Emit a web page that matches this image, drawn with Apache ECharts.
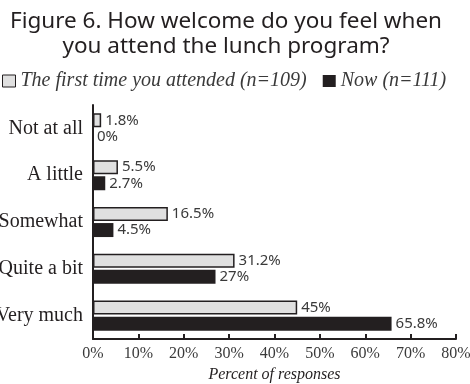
<!DOCTYPE html>
<html>
<head>
<meta charset="utf-8">
<script src="https://cdn.jsdelivr.net/npm/echarts@6/dist/echarts.min.js"></script>
<style>html,body{margin:0;padding:0;background:#fff}#c{width:470px;height:384px}</style>
</head>
<body>
<div id="c"></div>
<script>
var categories = ["Not at all", "A little", "Somewhat", "Quite a bit", "Very much"];
var firstTime = [1.8, 5.5, 16.5, 31.2, 45];
var nowValues = [0, 2.7, 4.5, 27, 65.8];
var seriesNames = ["The first time you attended (n=109)", "Now (n=111)"];
var xTicks = [0, 80, 10];

var ink = "#231f20";
var serif = "'Liberation Serif', 'DejaVu Serif', serif";
var sans = "'Noto Sans', 'Open Sans', sans-serif";

var chart = echarts.init(document.getElementById('c'), null, {renderer: 'canvas'});
var labelStyle = {show: true, position: 'right', distance: 4, formatter: '{c}%', fontFamily: sans, fontSize: 15, color: '#3a3a3a'};
chart.setOption({
  animation: false,
  backgroundColor: '#fff',
  title: {
    text: 'Figure 6. How welcome do you feel when\nyou attend the lunch program?',
    left: 221, top: 4, textAlign: 'center',
    textStyle: {fontFamily: sans, fontSize: 22.5, fontWeight: 'normal', color: ink, lineHeight: 25}
  },
  legend: {
    top: 71, left: 2, padding: 0, itemWidth: 13, itemHeight: 12, itemGap: 16,
    textStyle: {fontFamily: serif, fontStyle: 'italic', fontSize: 20, color: '#3a3a3a'},
    data: [
      {name: seriesNames[0], icon: 'rect', itemStyle: {color: '#e0e0e0', borderColor: ink, borderWidth: 1}},
      {name: seriesNames[1], icon: 'rect', itemStyle: {color: ink}}
    ]
  },
  grid: {left: 93, right: 14, top: 105, bottom: 45, containLabel: false, outerBoundsMode: 'none'},
  xAxis: {
    type: 'value', min: xTicks[0], max: xTicks[1], interval: xTicks[2],
    name: 'Percent of responses', nameLocation: 'middle', nameGap: 28,
    nameTextStyle: {fontFamily: serif, fontStyle: 'italic', fontSize: 16, color: ink},
    axisLine: {show: true, lineStyle: {color: ink, width: 2}},
    axisTick: {show: true, inside: true, length: 5, lineStyle: {color: ink, width: 2}},
    splitLine: {show: false},
    axisLabel: {formatter: '{value}%', fontFamily: serif, fontSize: 16, color: '#3a3a3a', margin: 7}
  },
  yAxis: {
    type: 'category', data: categories, inverse: true,
    axisLine: {show: true, lineStyle: {color: ink, width: 2}},
    axisTick: {show: false},
    axisLabel: {fontFamily: serif, fontSize: 20, color: ink, margin: 10}
  },
  series: [
    {name: seriesNames[0], type: 'bar', data: firstTime, barWidth: 14, barGap: '15%',
     itemStyle: {color: '#e0e0e0', borderColor: ink, borderWidth: 1.5}, label: labelStyle},
    {name: seriesNames[1], type: 'bar', data: nowValues, barWidth: 14, barGap: '15%',
     itemStyle: {color: ink}, label: labelStyle}
  ]
});
</script>
</body>
</html>
